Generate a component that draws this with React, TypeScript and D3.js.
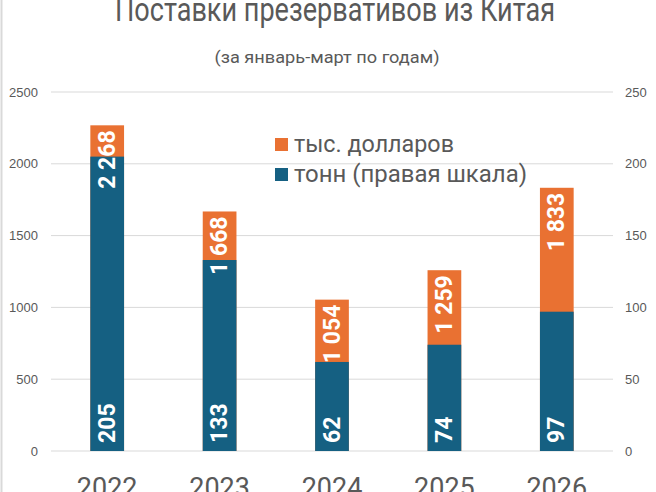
import React from "react";
import * as d3 from "d3";

const years = ["2022", "2023", "2024", "2025", "2026"];
const usdThousands = [2268, 1668, 1054, 1259, 1833];
const usdLabels = ["2 268", "1 668", "1 054", "1 259", "1 833"];
const tonnes = [205, 133, 62, 74, 97];
const leftTicks = [0, 500, 1000, 1500, 2000, 2500];
const rightTicks = [0, 50, 100, 150, 200, 250];
const legendItems = ["тыс. долларов", "тонн (правая шкала)"];
const legendWidths = [160, 233];

const W = 656;
const H = 492;
const ORANGE = "#E97132";
const BLUE = "#156082";
const TEXT = "#595959";
const GRID = "#D9D9D9";

export default function App() {
  const x = d3.scaleBand<string>().domain(years).range([51, 613]).paddingInner(0.7).paddingOuter(0.35);
  const yL = d3.scaleLinear().domain([0, 2500]).range([451, 92]);
  const yR = d3.scaleLinear().domain([0, 250]).range([451, 92]);
  const bw = x.bandwidth();
  const colors = [ORANGE, BLUE];

  return (
    <svg width={W} height={H} style={{ position: "absolute", left: 0, top: 0, background: "#fff" }}>
      <rect x={0} y={0} width={W} height={H} fill="#fff" />
      <line x1={1.5} x2={1.5} y1={0} y2={H} stroke={GRID} strokeWidth={2} />
      <text x={335} y={21} textAnchor="middle" fontFamily="Roboto" fontSize={34} fill={TEXT}
        textLength={440} lengthAdjust="spacingAndGlyphs">Поставки презервативов из Китая</text>
      <text x={327} y={63} textAnchor="middle" fontFamily="Roboto" fontSize={16.5} fill={TEXT}
        textLength={225} lengthAdjust="spacingAndGlyphs">(за январь-март по годам)</text>

      {leftTicks.map((t) => (
        <g key={"g" + t}>
          <line x1={51} x2={613} y1={yL(t)} y2={yL(t)} stroke={GRID} strokeWidth={1} />
          <text x={38} y={yL(t)} dy="0.35em" textAnchor="end" fontFamily="Liberation Sans, Arial" fontSize={13} fill={TEXT}>{t}</text>
        </g>
      ))}
      {rightTicks.map((t) => (
        <text key={"r" + t} x={625} y={yR(t)} dy="0.35em" textAnchor="start" fontFamily="Liberation Sans, Arial" fontSize={13} fill={TEXT}>{t}</text>
      ))}

      {years.map((yr, i) => (
        <rect key={"o" + yr} x={x(yr)} y={yL(usdThousands[i])} width={bw} height={yL(0) - yL(usdThousands[i])} fill={ORANGE} />
      ))}
      {years.map((yr, i) => (
        <rect key={"b" + yr} x={x(yr)} y={yR(tonnes[i])} width={bw} height={yR(0) - yR(tonnes[i])} fill={BLUE} />
      ))}
      {years.map((yr, i) => {
        const cx = (x(yr) as number) + bw / 2;
        const ty = yL(usdThousands[i]) + 5;
        return (
          <text key={"lo" + yr} transform={`translate(${cx},${ty}) rotate(-90)`} textAnchor="end" dominantBaseline="central"
            fontFamily="Roboto" fontWeight="bold" fontSize={23} fill="#fff">{usdLabels[i]}</text>
        );
      })}
      {years.map((yr, i) => {
        const cx = (x(yr) as number) + bw / 2;
        const ty = yR(0) - 8;
        return (
          <text key={"lb" + yr} transform={`translate(${cx},${ty}) rotate(-90)`} textAnchor="start" dominantBaseline="central"
            fontFamily="Roboto" fontWeight="bold" fontSize={23} fill="#fff">{tonnes[i]}</text>
        );
      })}

      {years.map((yr) => (
        <text key={"x" + yr} x={(x(yr) as number) + bw / 2} y={497} textAnchor="middle" fontFamily="Roboto" fontSize={27} fill={TEXT}>{yr}</text>
      ))}

      {legendItems.map((name, i) => (
        <g key={"lg" + i}>
          <rect x={275} y={138 + i * 30} width={13} height={13} fill={colors[i]} />
          <text x={294} y={152 + i * 30} fontFamily="Roboto" fontSize={23} fill={TEXT}
            textLength={legendWidths[i]} lengthAdjust="spacingAndGlyphs">{name}</text>
        </g>
      ))}
    </svg>
  );
}
